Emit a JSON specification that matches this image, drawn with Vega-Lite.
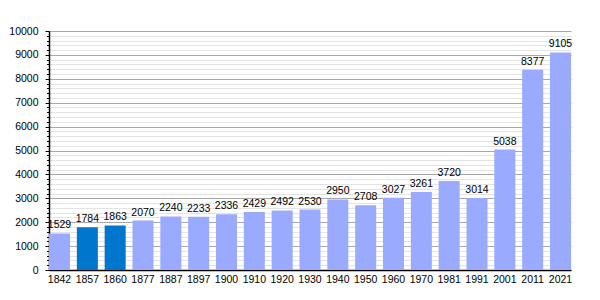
{
  "$schema": "https://vega.github.io/schema/vega-lite/v6.json",
  "width": 522,
  "height": 239,
  "autosize": {"type": "none"},
  "padding": {"left": 49, "top": 31, "right": 29, "bottom": 30},
  "background": "white",
  "config": {"view": {"stroke": null}, "font": "Liberation Sans"},
  "data": {"values": [
    {"year": "1842", "pop": 1529, "kind": "a"},
    {"year": "1857", "pop": 1784, "kind": "b"},
    {"year": "1860", "pop": 1863, "kind": "b"},
    {"year": "1877", "pop": 2070, "kind": "a"},
    {"year": "1887", "pop": 2240, "kind": "a"},
    {"year": "1897", "pop": 2233, "kind": "a"},
    {"year": "1900", "pop": 2336, "kind": "a"},
    {"year": "1910", "pop": 2429, "kind": "a"},
    {"year": "1920", "pop": 2492, "kind": "a"},
    {"year": "1930", "pop": 2530, "kind": "a"},
    {"year": "1940", "pop": 2950, "kind": "a"},
    {"year": "1950", "pop": 2708, "kind": "a"},
    {"year": "1960", "pop": 3027, "kind": "a"},
    {"year": "1970", "pop": 3261, "kind": "a"},
    {"year": "1981", "pop": 3720, "kind": "a"},
    {"year": "1991", "pop": 3014, "kind": "a"},
    {"year": "2001", "pop": 5038, "kind": "a"},
    {"year": "2011", "pop": 8377, "kind": "a"},
    {"year": "2021", "pop": 9105, "kind": "a"}
  ]},
  "encoding": {
    "x": {"field": "year", "type": "ordinal", "sort": null,
      "scale": {"paddingInner": 0.245, "paddingOuter": 0},
      "axis": {"title": null, "labelAngle": 0, "ticks": false, "domainColor": "black", "domainWidth": 1.5,
        "labelFontSize": 10.5, "labelColor": "black", "labelPadding": 4, "labelOverlap": false}},
    "y": {"field": "pop", "type": "quantitative",
      "scale": {"domain": [0, 10000], "nice": false},
      "axis": {"title": null,
        "values": [0,200,400,600,800,1000,1200,1400,1600,1800,2000,2200,2400,2600,2800,3000,3200,3400,3600,3800,4000,4200,4400,4600,4800,5000,5200,5400,5600,5800,6000,6200,6400,6600,6800,7000,7200,7400,7600,7800,8000,8200,8400,8600,8800,9000,9200,9400,9600,9800,10000],
        "labelExpr": "datum.value % 1000 === 0 ? datum.value : ''",
        "labelOverlap": false,
        "labelBound": false,
        "labelFlush": false,
        "grid": true,
        "gridColor": {"condition": {"test": "datum.value % 1000 === 0", "value": "#a8a8a8"}, "value": "#e4e4e4"},
        "tickSize": {"condition": {"test": "datum.value % 1000 === 0", "value": 4}, "value": 2.5},
        "tickColor": "black", "domainColor": "black", "domainWidth": 1.5,
        "labelFontSize": 10.5, "labelColor": "black", "labelPadding": 7}}
  },
  "layer": [
    {
      "mark": {"type": "bar"},
      "encoding": {
        "color": {"field": "kind", "type": "nominal", "legend": null,
          "scale": {"domain": ["a", "b"], "range": ["#99aaff", "#0077cc"]}}
      }
    },
    {
      "mark": {"type": "text", "baseline": "alphabetic", "dy": -5, "fontSize": 10.5, "color": "black"},
      "encoding": {"text": {"field": "pop", "type": "quantitative", "format": "d"}}
    }
  ]
}
